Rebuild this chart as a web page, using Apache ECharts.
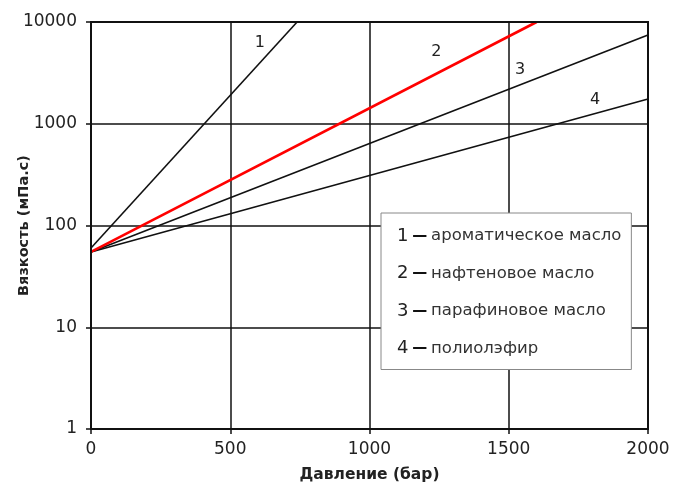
<!DOCTYPE html>
<html><head><meta charset="utf-8">
<script src="https://cdn.jsdelivr.net/npm/echarts@6/dist/echarts.min.js"></script>
<style>html,body{margin:0;padding:0;background:#fff}#c{width:678px;height:484px}</style>
</head><body><div id="c"></div>
<script>
var seriesNames = ['ароматическое масло', 'нафтеновое масло', 'парафиновое масло', 'полиолэфир'];
var seriesNums = ['1', '2', '3', '4'];
var line1 = [[0, 60], [740, 10000]];
var line2 = [[0, 55], [1600, 10000]];
var line3 = [[0, 55], [2000, 7450]];
var line4 = [[0, 55], [2000, 1750]];
var labelPos = [[606, 6300], [1240, 5070], [1541, 3380], [1810, 1710]];
var xTicks = [0, 500, 1000, 1500, 2000];
var yTicks = [1, 10, 100, 1000, 10000];
var colors = ['#111', '#ff0000', '#111', '#111'];
var widths = [1.6, 2.6, 1.6, 1.6];
var datasets = [line1, line2, line3, line4];

var chart = echarts.init(document.getElementById('c'));
var font = '"DejaVu Sans", "Liberation Sans", sans-serif';
var series = datasets.map(function (d, i) {
  return {
    name: seriesNames[i], type: 'line', data: d, symbol: 'none',
    lineStyle: { color: colors[i], width: widths[i] }, itemStyle: { color: colors[i] },
    z: i === 1 ? 4 : 3,
    markPoint: {
      symbol: 'circle', symbolSize: 0,
      data: [{ coord: labelPos[i] }],
      label: { show: true, formatter: seriesNums[i], color: '#222', fontSize: 16, fontFamily: font, position: 'inside' }
    }
  };
});
chart.setOption({
  backgroundColor: '#fff',
  animation: false,
  grid: { left: 91, top: 22, right: 30, bottom: 55, show: false, containLabel: false, outerBoundsMode: 'none' },
  xAxis: {
    type: 'value', min: 0, max: 2000, interval: 500,
    name: 'Давление (бар)', nameLocation: 'middle', nameGap: 38, nameMoveOverlap: false,
    nameTextStyle: { fontSize: 15.5, fontWeight: 'bold', color: '#222', fontFamily: font },
    axisLine: { show: true, onZero: false, lineStyle: { color: '#111', width: 2 } },
    axisTick: { show: true, length: 5, lineStyle: { color: '#111', width: 1.5 } },
    axisLabel: { fontSize: 17, color: '#222', fontFamily: font, margin: 12, showMaxLabel: true,
      formatter: function (v) { return String(v); } },
    splitLine: { show: true, lineStyle: { color: '#111', width: 1.5 } }
  },
  yAxis: {
    type: 'log', logBase: 10, min: 1, max: 10000,
    name: 'Вязкость (мПа.с)', nameLocation: 'middle', nameGap: 59, nameRotate: 90, nameMoveOverlap: false,
    nameTextStyle: { fontSize: 14.5, fontWeight: 'bold', color: '#222', fontFamily: font },
    axisLine: { show: true, lineStyle: { color: '#111', width: 2 } },
    axisTick: { show: true, length: 5, lineStyle: { color: '#111', width: 1.5 } },
    axisLabel: { fontSize: 17, color: '#222', fontFamily: font, margin: 14,
      formatter: function (v) { return String(Math.round(v)); } },
    splitLine: { show: true, lineStyle: { color: '#111', width: 1.5 } },
    minorTick: { show: false }
  },
  graphic: [{
    type: 'rect', shape: { x: 91, y: 22, width: 557, height: 407 },
    style: { fill: 'none', stroke: '#111', lineWidth: 2 }, z: 10, silent: true
  }],
  legend: {
    show: true, orient: 'vertical', left: 381, top: 213,
    icon: 'none', itemWidth: 0, itemHeight: 0, itemGap: 19.5,
    padding: [14, 10, 12, 11],
    backgroundColor: '#fff', borderColor: '#888', borderWidth: 1,
    z: 20, selectedMode: false,
    data: seriesNames,
    formatter: function (name) {
      var i = seriesNames.indexOf(name);
      return '{n|' + seriesNums[i] + '} {d|—} {t|' + name + '}';
    },
    textStyle: {
      fontFamily: font, color: '#222',
      rich: {
        n: { fontSize: 18, lineHeight: 20, color: '#222', fontFamily: font },
        d: { fontSize: 15, lineHeight: 20, color: '#111', fontWeight: 'bold', fontFamily: font },
        t: { fontSize: 16.5, lineHeight: 20, color: '#333', fontFamily: font }
      }
    }
  },
  series: series
});
</script></body></html>
